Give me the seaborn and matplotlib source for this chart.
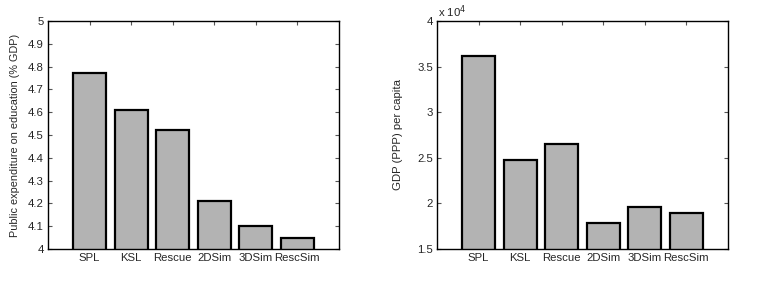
import pandas as pd
import seaborn as sns
import matplotlib
matplotlib.use("Agg")
import matplotlib.pyplot as plt

# data
methods = ["SPL", "KSL", "Rescue", "2DSim", "3DSim", "RescSim"]
edu_spend = [4.77, 4.61, 4.52, 4.21, 4.10, 4.05]
gdp_ppp = [36200, 24800, 26500, 17900, 19600, 19000]

df = pd.DataFrame({"method": methods, "edu": edu_spend, "gdp": gdp_ppp})
df["gdp_1e4"] = df["gdp"] / 1e4

sns.set_style("white")
plt.rcParams["font.family"] = ["Liberation Sans", "DejaVu Sans"]

fig = plt.figure(figsize=(7.63, 2.81), dpi=100)
ax1 = fig.add_axes([48 / 763, 1 - 249 / 281, (339 - 48) / 763, (249 - 21) / 281])
ax2 = fig.add_axes([437 / 763, 1 - 249 / 281, (728 - 437) / 763, (249 - 21) / 281])

bar_kw = dict(color="#b3b3b3", edgecolor="black", linewidth=1.6, width=0.8, saturation=1)

sns.barplot(data=df, x="method", y="edu", ax=ax1, **bar_kw)
sns.barplot(data=df, x="method", y="gdp_1e4", ax=ax2, **bar_kw)

ax1.set_ylim(4, 5)
ax1.set_yticks([4, 4.1, 4.2, 4.3, 4.4, 4.5, 4.6, 4.7, 4.8, 4.9, 5])
ax1.set_yticklabels(["4", "4.1", "4.2", "4.3", "4.4", "4.5", "4.6", "4.7", "4.8", "4.9", "5"])
ax1.set_ylabel("Public expenditure on education (% GDP)", fontsize=7.8, labelpad=6)

ax2.set_ylim(1.5, 4)
ax2.set_yticks([1.5, 2, 2.5, 3, 3.5, 4])
ax2.set_yticklabels(["1.5", "2", "2.5", "3", "3.5", "4"])
ax2.set_ylabel("GDP (PPP) per capita", fontsize=8.2, labelpad=10)
ax2.text(0.005, 1.005, r"x 10$^4$", transform=ax2.transAxes, fontsize=8.2,
         ha="left", va="bottom")

for ax in (ax1, ax2):
    ax.set_xlim(-1, 6)
    ax.set_xlabel("")
    ax.tick_params(direction="in", length=3, width=0.8, labelsize=8.2, pad=3,
                   top=True, right=True, bottom=True, left=True, color="#555555")
    for s in ax.spines.values():
        s.set_visible(True)
        s.set_color("black")
        s.set_linewidth(1.0)

fig.savefig("out.png", dpi=100)
